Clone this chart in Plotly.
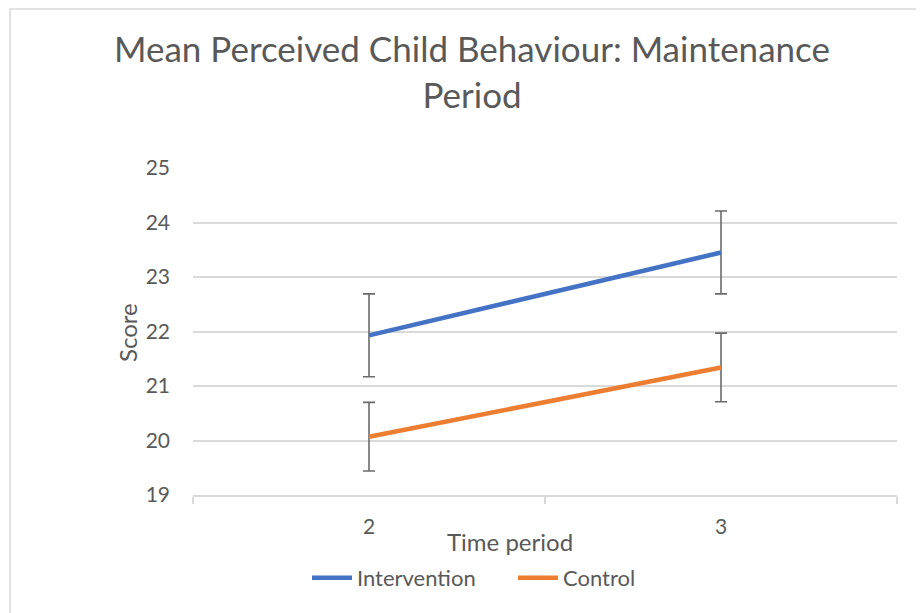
import plotly.graph_objects as go

categories = ["2", "3"]
intervention = [21.93, 23.45]
intervention_err = [0.76, 0.76]
control = [20.07, 21.34]
control_err = [0.63, 0.63]
y_ticks = [19, 20, 21, 22, 23, 24, 25]

FONT = "Lato"
TXT = "#595959"
GRID = "#d9d9d9"

# page has an 8px body margin; plot area in page pixels: x 193..897, y 168..495
W, H = 916, 605
L, T = 185, 160
PW, PH = 704, 327


def px(xp):
    return (xp - 193) / PW


def py(yp):
    return (495 - yp) / PH


fig = go.Figure()
fig.add_trace(go.Scatter(
    x=categories, y=intervention, name="Intervention", mode="lines",
    line=dict(color="#4472C4", width=4.5),
    error_y=dict(type="data", array=intervention_err, color="#6b6b6b", thickness=1.6, width=6),
))
fig.add_trace(go.Scatter(
    x=categories, y=control, name="Control", mode="lines",
    line=dict(color="#ED7D31", width=4.5),
    error_y=dict(type="data", array=control_err, color="#6b6b6b", thickness=1.6, width=6),
))

fig.update_layout(
    width=W, height=H,
    margin=dict(l=L, r=W - L - PW, t=T, b=H - T - PH, autoexpand=False),
    paper_bgcolor="white", plot_bgcolor="white",
    font=dict(family=FONT, color=TXT),
    title=dict(text="Mean Perceived Child Behaviour: Maintenance<br>Period",
               x=464 / W, xanchor="center", y=1 - 54 / H, yanchor="top",
               font=dict(size=35, color=TXT, family=FONT)),
    showlegend=True,
    legend=dict(orientation="h", x=px(513), xanchor="center", y=py(578), yanchor="middle",
                font=dict(size=22, color=TXT), itemwidth=40, traceorder="normal",
                entrywidth=151, entrywidthmode="pixels"),
    xaxis=dict(type="category", range=[-0.5, 1.5], tickson="boundaries",
               ticks="outside", ticklen=7, tickcolor=GRID, tickwidth=1.5,
               showline=True, linecolor=GRID, linewidth=1.5, showgrid=False,
               ticklabelstandoff=12,
               tickfont=dict(size=21, color=TXT)),
    yaxis=dict(range=[19, 25], tickvals=y_ticks, showgrid=True, gridcolor=GRID, gridwidth=1.5,
               zeroline=False, showline=False, ticks="", ticklabelstandoff=22,
               tickfont=dict(size=21, color=TXT)),
    annotations=[
        dict(text="Time period", xref="paper", yref="paper", x=px(510), y=py(541),
             xanchor="center", yanchor="middle", showarrow=False,
             font=dict(size=24, color=TXT, family=FONT)),
        dict(text="Score", xref="paper", yref="paper", x=px(127), y=py(333),
             xanchor="center", yanchor="middle", showarrow=False, textangle=-90,
             font=dict(size=24, color=TXT, family=FONT)),
    ],
    shapes=[dict(type="rect", xref="paper", yref="paper",
                 x0=px(10), x1=1.2, y0=-0.6, y1=py(9),
                 line=dict(color=GRID, width=1.5), layer="below")],
)

fig.write_html("out.html")
